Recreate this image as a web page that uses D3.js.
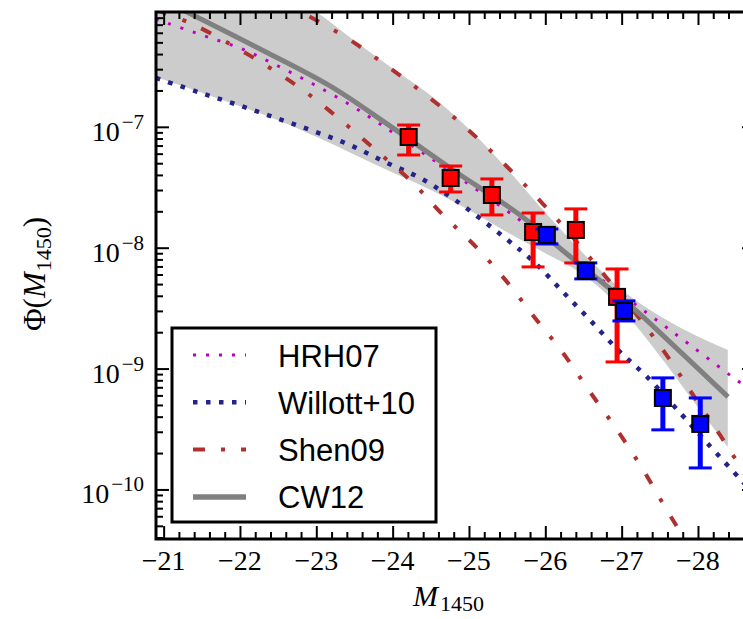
<!DOCTYPE html>
<html>
<head>
<meta charset="utf-8">
<script src="https://d3js.org/d3.v7.min.js"></script>
<style>
  body { margin: 0; background: #fff; }
  svg { display: block; }
</style>
</head>
<body>
<script>

// ---- data: M1450 and log10 Phi ----
var redM      = [-24.21, -24.76, -25.30, -25.84, -26.40, -26.94];
var redLogPhi = [-7.084, -7.423, -7.564, -7.870, -7.853, -8.407];
var redLogHi  = [-6.985, -7.324, -7.431, -7.713, -7.679, -8.176];
var redLogLo  = [-7.233, -7.539, -7.729, -8.159, -8.126, -8.945];

var blueM      = [-26.02, -26.53, -27.03, -27.54, -28.03];
var blueLogPhi = [-7.894, -8.192, -8.523, -9.243, -9.458];
var blueLogHi  = [-7.845, -8.126, -8.440, -9.077, -9.243];
var blueLogLo  = [-7.969, -8.258, -8.606, -9.507, -9.822];

var cw12M      = [-21.2, -22.262, -23.179, -23.926, -24.790, -25.668, -26.284, -27.148, -27.672, -28.393];
var cw12LogPhi = [-6.017, -6.356, -6.662, -6.976, -7.357, -7.729, -8.052, -8.498, -8.804, -9.234];

var bandM     = [-20.9, -21.5, -22, -22.5, -23, -23.5, -24, -24.5, -25, -25.5, -26, -26.5, -27, -27.5, -28, -28.39];
var bandLogHi = [-5.22, -5.477, -5.69, -5.86, -6.05, -6.287, -6.518, -6.741, -7.018, -7.349, -7.709, -8.048, -8.347, -8.565, -8.735, -8.846];
var bandLogLo = [-6.588, -6.718, -6.830, -6.945, -7.083, -7.230, -7.378, -7.522, -7.689, -7.873, -8.045, -8.224, -8.510, -8.895, -9.320, -9.648];

var hrh07M      = [-20.9, -21.044, -21.542, -22.027, -22.498, -22.957, -23.402, -23.834, -24.398, -24.974, -25.537, -26.454, -27.332, -27.895, -28.576, -28.746];
var hrh07LogPhi = [-6.108, -6.141, -6.249, -6.356, -6.497, -6.646, -6.803, -6.976, -7.216, -7.464, -7.713, -8.134, -8.540, -8.804, -9.127, -9.201];

var willottM      = [-20.9, -21.018, -21.489, -21.974, -22.472, -22.957, -23.441, -23.900, -24.358, -24.817, -25.472, -25.865, -26.231, -26.585, -26.952, -27.332, -27.790, -28.118, -28.589, -28.746];
var willottLogPhi = [-6.596, -6.621, -6.720, -6.819, -6.927, -7.034, -7.150, -7.291, -7.423, -7.605, -7.919, -8.126, -8.366, -8.598, -8.846, -9.069, -9.383, -9.615, -9.938, -10.045];

// Shen09, two curves
var shenAM      = [-22.354, -22.878, -23.402, -23.874, -24.384, -24.843, -25.301, -25.707, -26.127, -26.520, -26.913, -27.279, -27.633, -27.961, -28.288, -28.746];
var shenALogPhi = [-5.885, -6.075, -6.265, -6.472, -6.712, -6.943, -7.208, -7.464, -7.746, -8.035, -8.333, -8.622, -8.928, -9.243, -9.549, -10.004];
var shenBM      = [-20.9, -21.345, -21.869, -22.393, -22.878, -23.350, -23.808, -24.266, -24.659, -25.105, -25.498, -25.865, -26.231, -26.585, -26.939, -27.266, -27.567, -27.895];
var shenBLogPhi = [-6.033, -6.141, -6.315, -6.513, -6.720, -6.960, -7.208, -7.464, -7.729, -8.002, -8.283, -8.581, -8.870, -9.193, -9.507, -9.822, -10.144, -10.483];

var xTicks = [-21, -22, -23, -24, -25, -26, -27, -28];
var yTicks = [-10, -9, -8, -7];
var legendLabels = ["HRH07", "Willott+10", "Shen09", "CW12"];

// ---- setup ----
var W = 743, H = 619;
var pLeft = 156, pRight = 755, pTop = 12, pBottom = 539;

var x = d3.scaleLinear().domain([-20.9, -28.76]).range([pLeft, pRight + 1]);
var y = d3.scaleLog().domain([Math.pow(10, -10.41), Math.pow(10, -6.05)]).range([pBottom, pTop]);
var p = function(v) { return Math.pow(10, v); };

var svg = d3.select("body").append("svg")
    .attr("width", W)
    .attr("height", H);

svg.append("clipPath").attr("id", "clip")
  .append("rect")
    .attr("x", pLeft).attr("y", pTop)
    .attr("width", pRight - pLeft).attr("height", pBottom - pTop);

var plot = svg.append("g").attr("clip-path", "url(#clip)");

var serif = "'Liberation Serif', 'Times New Roman', serif";
var sans = "'Liberation Sans', Arial, sans-serif";

var colHRH = "#c000c0", colWil = "#23238a", colShen = "#b03030", colCW = "#808080";

// band
var band = bandM.map(function(m, i) { return {m: m, hi: bandLogHi[i], lo: bandLogLo[i]}; });
plot.append("path")
    .datum(band)
    .attr("fill", "#cccccc")
    .attr("d", d3.area()
      .x(function(d) { return x(d.m); })
      .y0(function(d) { return y(p(d.lo)); })
      .y1(function(d) { return y(p(d.hi)); })
      .curve(d3.curveCatmullRom));

function pts(ms, ls) {
  return ms.map(function(m, i) { return [m, ls[i]]; });
}
var line = d3.line()
    .x(function(d) { return x(d[0]); })
    .y(function(d) { return y(p(d[1])); })
    .curve(d3.curveCatmullRom);

function curve(data, color, w, dash) {
  plot.append("path")
      .datum(data)
      .attr("fill", "none")
      .attr("stroke", color)
      .attr("stroke-width", w)
      .attr("stroke-dasharray", dash)
      .attr("d", line);
}

curve(pts(hrh07M, hrh07LogPhi), colHRH, 3, "3 10");
curve(pts(willottM, willottLogPhi), colWil, 4.5, "4.5 8.5");
curve(pts(shenAM, shenALogPhi), colShen, 4, "11 17 4 17");
curve(pts(shenBM, shenBLogPhi), colShen, 4, "11 17 4 17");
curve(pts(cw12M, cw12LogPhi), colCW, 5, null);

// data points with error bars
function points(ms, ls, his, los, color) {
  var g = svg.append("g");
  var data = ms.map(function(m, i) { return {m: m, l: ls[i], hi: his[i], lo: los[i]}; });
  g.selectAll(".bar").data(data).enter().append("line")
      .attr("x1", function(d) { return x(d.m); })
      .attr("x2", function(d) { return x(d.m); })
      .attr("y1", function(d) { return y(p(d.hi)); })
      .attr("y2", function(d) { return y(p(d.lo)); })
      .attr("stroke", color).attr("stroke-width", 5);
  ["hi", "lo"].forEach(function(k) {
    g.selectAll(".cap" + k).data(data).enter().append("line")
        .attr("x1", function(d) { return x(d.m) - 11.5; })
        .attr("x2", function(d) { return x(d.m) + 11.5; })
        .attr("y1", function(d) { return y(p(d[k])); })
        .attr("y2", function(d) { return y(p(d[k])); })
        .attr("stroke", color).attr("stroke-width", 3);
  });
  g.selectAll("rect").data(data).enter().append("rect")
      .attr("x", function(d) { return x(d.m) - 8; })
      .attr("y", function(d) { return y(p(d.l)) - 8; })
      .attr("width", 16).attr("height", 16)
      .attr("fill", color)
      .attr("stroke", "#000").attr("stroke-width", 2);
}
points(redM, redLogPhi, redLogHi, redLogLo, "#ff0000");
points(blueM, blueLogPhi, blueLogHi, blueLogLo, "#0000ff");

// ---- axes ----
var xMinor = d3.range(-21, -28.8, -0.2).map(function(v) { return Math.round(v * 10) / 10; })
    .filter(function(v) { return xTicks.indexOf(v) < 0 && v >= -28.76; });
var yMinor = [];
[-11, -10, -9, -8, -7].forEach(function(e) {
  for (var k = 2; k <= 9; k++) {
    var v = k * Math.pow(10, e);
    if (v > y.domain()[0] && v < y.domain()[1]) yMinor.push(v);
  }
});
var yMajor = yTicks.map(p);

function axis(gen, tr, vals, size) {
  var g = svg.append("g")
      .attr("transform", tr)
      .call(gen.tickValues(vals).tickSize(size).tickSizeOuter(0).tickFormat(""));
  g.select(".domain").remove();
  g.selectAll(".tick line").attr("stroke", "#000").attr("stroke-width", 2);
}
axis(d3.axisTop(x), "translate(0," + pBottom + ")", xTicks, 13);
axis(d3.axisTop(x), "translate(0," + pBottom + ")", xMinor, 7);
axis(d3.axisBottom(x), "translate(0," + pTop + ")", xTicks, 13);
axis(d3.axisBottom(x), "translate(0," + pTop + ")", xMinor, 7);
axis(d3.axisRight(y), "translate(" + pLeft + ",0)", yMajor, 13);
axis(d3.axisRight(y), "translate(" + pLeft + ",0)", yMinor, 7);
axis(d3.axisLeft(y), "translate(" + pRight + ",0)", yMajor, 13);
axis(d3.axisLeft(y), "translate(" + pRight + ",0)", yMinor, 7);

// frame
svg.append("rect")
    .attr("x", pLeft).attr("y", pTop)
    .attr("width", pRight - pLeft).attr("height", pBottom - pTop)
    .attr("fill", "none").attr("stroke", "#000").attr("stroke-width", 3);

// x tick labels
svg.selectAll(".xlab").data(xTicks).enter().append("text")
    .attr("x", function(d) { return x(d); })
    .attr("y", 570)
    .attr("text-anchor", "middle")
    .style("font-family", serif).style("font-size", "28px")
    .text(function(d) { return "\u2212" + Math.abs(d); });

// y tick labels
yTicks.forEach(function(e) {
  var t = svg.append("text")
      .attr("x", 144)
      .attr("y", y(p(e)) + 14)
      .attr("text-anchor", "end")
      .style("font-family", serif).style("font-size", "28px");
  t.append("tspan").text("10");
  t.append("tspan").attr("dy", -12).attr("dx", 2).style("font-size", "21px").text("\u2212" + Math.abs(e));
});

// axis titles
var xt = svg.append("text")
    .attr("x", 413).attr("y", 606)
    .style("font-family", serif).style("font-size", "30px");
xt.append("tspan").style("font-style", "italic").text("M");
xt.append("tspan").attr("dy", 5).attr("dx", 2).style("font-size", "22px").text("1450");

var yt = svg.append("text")
    .attr("transform", "translate(45,274) rotate(-90)")
    .attr("text-anchor", "middle")
    .style("font-family", serif).style("font-size", "31px");
yt.append("tspan").text("\u03A6(");
yt.append("tspan").style("font-style", "italic").text("M");
yt.append("tspan").attr("dy", 6).attr("dx", 1).style("font-size", "22px").text("1450");
yt.append("tspan").attr("dy", -6).text(")");

// ---- legend ----
var lg = svg.append("g");
lg.append("rect")
    .attr("x", 172).attr("y", 328)
    .attr("width", 264).attr("height", 194)
    .attr("fill", "#fff").attr("stroke", "#000").attr("stroke-width", 3);

var legendStyle = [
  {c: colHRH, w: 3, dash: "3 10"},
  {c: colWil, w: 4.5, dash: "4.5 8.5"},
  {c: colShen, w: 4, dash: "12 16 4 16"},
  {c: colCW, w: 5.5, dash: null}
];
legendLabels.forEach(function(name, i) {
  var ly = 355 + i * 47.3;
  var s = legendStyle[i];
  lg.append("line")
      .attr("x1", 193).attr("x2", 246)
      .attr("y1", ly).attr("y2", ly)
      .attr("stroke", s.c).attr("stroke-width", s.w)
      .attr("stroke-dasharray", s.dash);
  lg.append("text")
      .attr("x", 278).attr("y", ly + 11.5)
      .style("font-family", sans).style("font-size", "31px")
      .text(name);
});

</script>
</body>
</html>
